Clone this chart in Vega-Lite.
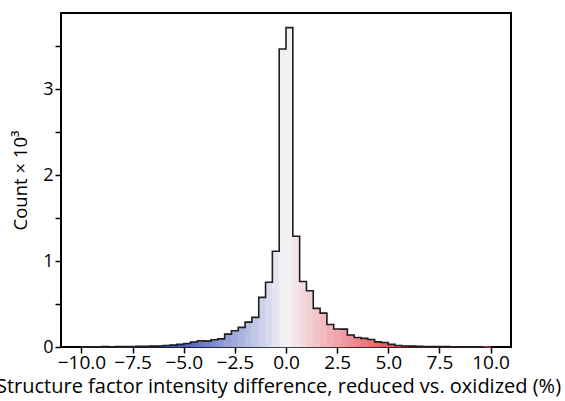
{
  "$schema": "https://vega.github.io/schema/vega-lite/v6.json",
  "width": 450,
  "height": 334,
  "autosize": {"type": "none"},
  "padding": {"left": 61, "top": 13, "right": 54, "bottom": 54},
  "background": "white",
  "config": {
    "view": {"stroke": "black", "strokeWidth": 2},
    "font": "Open Sans"
  },
  "data": {
    "values": [
      {"lo": -10.0, "hi": -9.667, "mid": -9.833, "count": 3},
      {"lo": -9.667, "hi": -9.333, "mid": -9.5, "count": 2},
      {"lo": -9.333, "hi": -9.0, "mid": -9.167, "count": 3},
      {"lo": -9.0, "hi": -8.667, "mid": -8.833, "count": 4},
      {"lo": -8.667, "hi": -8.333, "mid": -8.5, "count": 3},
      {"lo": -8.333, "hi": -8.0, "mid": -8.167, "count": 4},
      {"lo": -8.0, "hi": -7.667, "mid": -7.833, "count": 5},
      {"lo": -7.667, "hi": -7.333, "mid": -7.5, "count": 6},
      {"lo": -7.333, "hi": -7.0, "mid": -7.167, "count": 7},
      {"lo": -7.0, "hi": -6.667, "mid": -6.833, "count": 8},
      {"lo": -6.667, "hi": -6.333, "mid": -6.5, "count": 10},
      {"lo": -6.333, "hi": -6.0, "mid": -6.167, "count": 12},
      {"lo": -6.0, "hi": -5.667, "mid": -5.833, "count": 18},
      {"lo": -5.667, "hi": -5.333, "mid": -5.5, "count": 22},
      {"lo": -5.333, "hi": -5.0, "mid": -5.167, "count": 30},
      {"lo": -5.0, "hi": -4.667, "mid": -4.833, "count": 40},
      {"lo": -4.667, "hi": -4.333, "mid": -4.5, "count": 58},
      {"lo": -4.333, "hi": -4.0, "mid": -4.167, "count": 72},
      {"lo": -4.0, "hi": -3.667, "mid": -3.833, "count": 68},
      {"lo": -3.667, "hi": -3.333, "mid": -3.5, "count": 85},
      {"lo": -3.333, "hi": -3.0, "mid": -3.167, "count": 95},
      {"lo": -3.0, "hi": -2.667, "mid": -2.833, "count": 150},
      {"lo": -2.667, "hi": -2.333, "mid": -2.5, "count": 190},
      {"lo": -2.333, "hi": -2.0, "mid": -2.167, "count": 228},
      {"lo": -2.0, "hi": -1.667, "mid": -1.833, "count": 290},
      {"lo": -1.667, "hi": -1.333, "mid": -1.5, "count": 345},
      {"lo": -1.333, "hi": -1.0, "mid": -1.167, "count": 578},
      {"lo": -1.0, "hi": -0.667, "mid": -0.833, "count": 755},
      {"lo": -0.667, "hi": -0.333, "mid": -0.5, "count": 1115},
      {"lo": -0.333, "hi": 0.0, "mid": -0.167, "count": 3470},
      {"lo": 0.0, "hi": 0.333, "mid": 0.167, "count": 3720},
      {"lo": 0.333, "hi": 0.667, "mid": 0.5, "count": 1290},
      {"lo": 0.667, "hi": 1.0, "mid": 0.833, "count": 762},
      {"lo": 1.0, "hi": 1.333, "mid": 1.167, "count": 655},
      {"lo": 1.333, "hi": 1.667, "mid": 1.5, "count": 450},
      {"lo": 1.667, "hi": 2.0, "mid": 1.833, "count": 395},
      {"lo": 2.0, "hi": 2.333, "mid": 2.167, "count": 262},
      {"lo": 2.333, "hi": 2.667, "mid": 2.5, "count": 210},
      {"lo": 2.667, "hi": 3.0, "mid": 2.833, "count": 208},
      {"lo": 3.0, "hi": 3.333, "mid": 3.167, "count": 140},
      {"lo": 3.333, "hi": 3.667, "mid": 3.5, "count": 110},
      {"lo": 3.667, "hi": 4.0, "mid": 3.833, "count": 100},
      {"lo": 4.0, "hi": 4.333, "mid": 4.167, "count": 88},
      {"lo": 4.333, "hi": 4.667, "mid": 4.5, "count": 60},
      {"lo": 4.667, "hi": 5.0, "mid": 4.833, "count": 52},
      {"lo": 5.0, "hi": 5.333, "mid": 5.167, "count": 30},
      {"lo": 5.333, "hi": 5.667, "mid": 5.5, "count": 18},
      {"lo": 5.667, "hi": 6.0, "mid": 5.833, "count": 12},
      {"lo": 6.0, "hi": 6.333, "mid": 6.167, "count": 10},
      {"lo": 6.333, "hi": 6.667, "mid": 6.5, "count": 7},
      {"lo": 6.667, "hi": 7.0, "mid": 6.833, "count": 6},
      {"lo": 7.0, "hi": 7.333, "mid": 7.167, "count": 5},
      {"lo": 7.333, "hi": 7.667, "mid": 7.5, "count": 4},
      {"lo": 7.667, "hi": 8.0, "mid": 7.833, "count": 4},
      {"lo": 8.0, "hi": 8.333, "mid": 8.167, "count": 3},
      {"lo": 8.333, "hi": 8.667, "mid": 8.5, "count": 3},
      {"lo": 8.667, "hi": 9.0, "mid": 8.833, "count": 2},
      {"lo": 9.0, "hi": 9.333, "mid": 9.167, "count": 3},
      {"lo": 9.333, "hi": 9.667, "mid": 9.5, "count": 2},
      {"lo": 9.667, "hi": 10.0, "mid": 9.833, "count": 2}
    ]
  },
  "encoding": {
    "x": {
      "field": "lo",
      "type": "quantitative",
      "scale": {"domain": [-11, 11], "nice": false, "zero": false},
      "axis": {
        "title": "Structure factor intensity difference, reduced vs. oxidized (%)",
        "titleFontSize": 20,
        "titleFontWeight": "normal",
        "titleColor": "black",
        "titlePadding": 4,
        "titleX": 217,
        "values": [-10, -7.5, -5, -2.5, 0, 2.5, 5, 7.5, 10],
        "labelExpr": "replace(format(datum.value, '.1f'), '-', '\u2212')",
        "labelFontSize": 19,
        "labelColor": "black",
        "labelPadding": 0,
        "labelOverlap": false,
        "tickSize": 6,
        "tickWidth": 1.5,
        "tickColor": "black",
        "domain": false,
        "grid": false
      }
    },
    "y": {
      "field": "count",
      "type": "quantitative",
      "scale": {"domain": [0, 3890], "nice": false},
      "axis": {
        "title": "Count \u00d7 10\u00b3",
        "titleFontSize": 18.5,
        "titleFontWeight": "normal",
        "titleColor": "black",
        "titlePadding": 12,
        "values": [0, 500, 1000, 1500, 2000, 2500, 3000, 3500],
        "labelExpr": "datum.value % 1000 === 0 ? format(datum.value / 1000, 'd') : ''",
        "labelFontSize": 18,
        "labelColor": "black",
        "labelPadding": 2,
        "tickSize": 6,
        "tickWidth": 1.5,
        "tickColor": "black",
        "domain": false,
        "grid": false
      }
    }
  },
  "layer": [
    {
      "mark": {"type": "rect", "strokeWidth": 0.6},
      "encoding": {
        "x2": {"field": "hi"},
        "y2": {"datum": 0},
        "fill": {
          "field": "mid",
          "type": "quantitative",
          "scale": {"domain": [-5, 0, 5], "range": ["#4a5fbf", "#f4f4f6", "#ec5560"], "interpolate": "rgb", "clamp": true},
          "legend": null
        },
        "stroke": {
          "field": "mid",
          "type": "quantitative",
          "scale": {"domain": [-5, 0, 5], "range": ["#4a5fbf", "#f4f4f6", "#ec5560"], "interpolate": "rgb", "clamp": true},
          "legend": null
        }
      }
    },
    {
      "mark": {"type": "line", "interpolate": "step-after", "color": "#1e1e1e", "strokeWidth": 1.6},
      "encoding": {}
    }
  ]
}
